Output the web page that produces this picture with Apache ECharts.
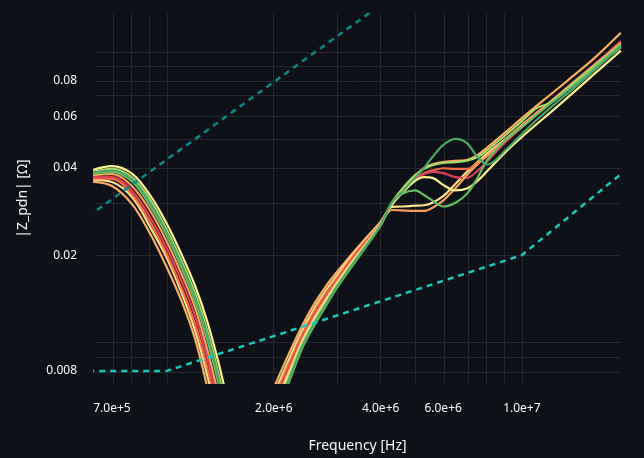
<!DOCTYPE html>
<html>
<head>
<meta charset="utf-8">
<script src="https://cdn.jsdelivr.net/npm/echarts@6/dist/echarts.min.js"></script>
<style>
  html, body { margin: 0; padding: 0; background: #0e1117; }
  #chart { width: 644px; height: 458px; }
</style>
</head>
<body>
<div id="chart"></div>
<script>
// frequency grid shared by all PDN curves (null entry = gap below the plot)
const freqs = [
  6.0e5, 7.0e5, 8.0e5, 9.0e5, 1.0e6, 1.1e6, 1.2e6, 1.3e6, 1.4e6, 1.5e6,
  1.7e6,
  2.0e6, 2.2e6, 2.4e6, 2.6e6, 2.8e6, 3.0e6, 3.3e6, 3.6e6, 4.0e6,
  4.3e6, 4.6e6, 5.0e6, 5.3e6, 5.6e6, 6.0e6, 6.5e6, 7.0e6, 7.5e6, 8.0e6,
  9.0e6, 1.0e7, 1.1e7, 1.2e7, 1.4e7, 1.6e7, 1.9e7
];

// |Z_pdn| in ohm, one array per case
const zOrange = [
  0.0359, 0.0346, 0.0298, 0.0235, 0.0181, 0.0139, 0.0103, 0.00699, 0.00463, 0.00290,
  null,
  0.00700, 0.00910, 0.0114, 0.0136, 0.0156, 0.0174, 0.0200, 0.0226, 0.0261,
  0.0298, 0.0335, 0.0374, 0.0399, 0.0411, 0.0418, 0.0422, 0.0425, 0.0442, 0.0470,
  0.0530, 0.0592, 0.0652, 0.0711, 0.0830, 0.0952, 0.1164
];
const zYellow = [
  0.0364, 0.0357, 0.0315, 0.0248, 0.0195, 0.0148, 0.0110, 0.00769, 0.00514, 0.00334,
  null,
  0.00665, 0.00868, 0.01095, 0.0131, 0.0151, 0.0169, 0.0197, 0.0223, 0.0259,
  0.0293, 0.0294, 0.0296, 0.0297, 0.0303, 0.0319, 0.0352, 0.0387, 0.0418, 0.0449,
  0.0502, 0.0560, 0.0617, 0.0668, 0.0775, 0.0880, 0.1038
];
const zOrangeRed = [
  0.0367, 0.0366, 0.0322, 0.0258, 0.0201, 0.0154, 0.0116, 0.00819, 0.00552, 0.00357,
  null,
  0.00640, 0.00838, 0.0106, 0.01276, 0.01472, 0.0165, 0.0194, 0.0221, 0.0258,
  0.0300, 0.0330, 0.0366, 0.0383, 0.0391, 0.0398, 0.0396, 0.0396, 0.0415, 0.0438,
  0.0498, 0.0556, 0.0617, 0.0672, 0.0787, 0.0905, 0.1080
];
const zRed = [
  0.0371, 0.0371, 0.0332, 0.0268, 0.0211, 0.0163, 0.0124, 0.00880, 0.00602, 0.00396,
  null,
  0.00618, 0.00810, 0.01034, 0.01244, 0.01434, 0.01622, 0.0191, 0.02182, 0.0257,
  0.0300, 0.0327, 0.0363, 0.0380, 0.0387, 0.0383, 0.0371, 0.0369, 0.0390, 0.0422,
  0.0490, 0.0551, 0.0612, 0.0669, 0.0784, 0.0901, 0.1089
];
const zPeach = [
  0.0376, 0.0380, 0.0344, 0.0282, 0.0222, 0.0172, 0.0132, 0.00944, 0.00651, 0.00435,
  null,
  0.00603, 0.00792, 0.01016, 0.01222, 0.01412, 0.01602, 0.0189, 0.02160, 0.02562,
  0.0286, 0.0285, 0.0284, 0.0284, 0.0291, 0.0308, 0.0340, 0.0377, 0.0411, 0.0442,
  0.0498, 0.0556, 0.0614, 0.0672, 0.0787, 0.0901, 0.1072
];
const zPale = [
  0.0388, 0.0405, 0.0380, 0.0319, 0.0256, 0.0201, 0.0157, 0.0118, 0.00846, 0.00588,
  null,
  0.00589, 0.00774, 0.01000, 0.01202, 0.01390, 0.01587, 0.01868, 0.02143, 0.02554,
  0.0298, 0.0327, 0.0360, 0.0371, 0.0369, 0.0349, 0.0334, 0.0339, 0.0360, 0.0390,
  0.0453, 0.0510, 0.0564, 0.0617, 0.0727, 0.0840, 0.1010
];
const zLightGreen = [
  0.0383, 0.0396, 0.0369, 0.0308, 0.0244, 0.0191, 0.0148, 0.0110, 0.00775, 0.00530,
  null,
  0.00575, 0.00757, 0.00984, 0.01182, 0.01369, 0.01566, 0.01845, 0.02129, 0.02542,
  0.0303, 0.0338, 0.0377, 0.0396, 0.0408, 0.0415, 0.0418, 0.0423, 0.0435, 0.0460,
  0.0518, 0.0578, 0.0641, 0.0668, 0.0781, 0.0894, 0.1063
];
const zGreen = [
  0.0380, 0.0387, 0.0357, 0.0293, 0.0233, 0.0181, 0.0139, 0.0102, 0.00716, 0.00482,
  null,
  0.00550, 0.00725, 0.00952, 0.01145, 0.01334, 0.0153, 0.01808, 0.02100, 0.0253,
  0.0303, 0.0325, 0.0334, 0.0322, 0.0308, 0.0294, 0.0303, 0.0325, 0.0369, 0.0425,
  0.0498, 0.0551, 0.0607, 0.0662, 0.0769, 0.0880, 0.1055
];
const zDarkGreen = [
  0.0382, 0.0391, 0.0363, 0.0300, 0.0238, 0.0186, 0.0143, 0.01063, 0.00745, 0.00506,
  null,
  0.00562, 0.00740, 0.00968, 0.01162, 0.01352, 0.01546, 0.01826, 0.02114, 0.02536,
  0.0303, 0.0330, 0.0369, 0.0399, 0.0435, 0.0478, 0.0502, 0.0486, 0.0435, 0.0410,
  0.0460, 0.0522, 0.0583, 0.0641, 0.0751, 0.0866, 0.1047
];

// dashed reference lines
const upperFreqs = [6.0e5, 1.0e6, 2.0e6, 3.0e6, 4.0e6];
const upperZ = [0.0272, 0.0427, 0.0788, 0.1127, 0.145];
const targetFreqs = [6.0e5, 1.0e6, 1.0e7, 2.0e7];
const targetZ = [0.008, 0.008, 0.020, 0.040];

// axis ticks / grid
const xRange = [6.27e5, 1.89e7];
const yRange = [0.00727, 0.135];
const xTickLabels = [7e5, 2e6, 4e6, 6e6, 1e7];
const yTickLabels = [0.008, 0.02, 0.04, 0.06, 0.08];
const xGridValues = [7e5, 8e5, 9e5, 1e6, 2e6, 3e6, 4e6, 5e6, 6e6, 7e6, 8e6, 9e6, 1e7];
const yGridValues = [0.008, 0.009, 0.01, 0.02, 0.03, 0.04, 0.05, 0.06, 0.07, 0.08, 0.09, 0.1];

const curves = [
  { z: zOrange, color: '#fdae61' },
  { z: zYellow, color: '#fee08b' },
  { z: zOrangeRed, color: '#f46d43' },
  { z: zRed, color: '#dd4157' },
  { z: zPeach, color: '#f6a05c' },
  { z: zPale, color: '#fbf28f' },
  { z: zLightGreen, color: '#a6d96a' },
  { z: zGreen, color: '#66bd63' },
  { z: zDarkGreen, color: '#4fa565' },
];

const lg = Math.log10;
const FONT = '"Source Sans Pro", "Noto Sans", sans-serif';
const toXY = (fs, zs) => fs.map((f, i) => zs[i] == null ? [lg(f), '-'] : [lg(f), lg(zs[i])]);

const chart = echarts.init(document.getElementById('chart'));

const series = [];
// grid lines as mark lines on an empty helper series, kept under the curves
series.push({
  type: 'line',
  data: [],
  silent: true,
  z: 0,
  markLine: {
    z: 0,
    silent: true,
    symbol: 'none',
    animation: false,
    label: { show: false },
    lineStyle: { color: '#25282f', width: 1, type: 'solid' },
    data: xGridValues.map(v => ({ xAxis: lg(v) }))
      .concat(yGridValues.map(v => ({ yAxis: lg(v) }))),
  },
});
curves.forEach((c) => {
  series.push({
    type: 'line',
    data: toXY(freqs, c.z),
    showSymbol: false,
    smooth: 0.35,
    z: 10,
    lineStyle: { color: c.color, width: 2.2 },
  });
});
series.push({
  type: 'line',
  data: toXY(upperFreqs, upperZ),
  showSymbol: false,
  z: 12,
  lineStyle: { color: '#0b8a88', width: 2.5, type: [6, 5] },
});
series.push({
  type: 'line',
  data: toXY(targetFreqs, targetZ),
  showSymbol: false,
  z: 12,
  lineStyle: { color: '#17c9b9', width: 2.5, type: [6, 5] },
});

chart.setOption({
  backgroundColor: '#0e1117',
  animation: false,
  textStyle: { fontFamily: FONT },
  grid: { left: 95, right: 24, top: 14, bottom: 75 },
  xAxis: {
    type: 'value',
    min: lg(xRange[0]),
    max: lg(xRange[1]),
    name: 'Frequency [Hz]',
    nameLocation: 'middle',
    nameGap: 56,
    nameTextStyle: { color: '#fafafa', fontSize: 14, fontFamily: FONT },
    axisLine: { show: false },
    axisTick: { show: false },
    splitLine: { show: false },
    axisLabel: {
      customValues: xTickLabels.map(lg),
      color: '#fafafa',
      fontSize: 12,
      margin: 20,
      fontFamily: FONT,
      formatter: v => Math.pow(10, v).toExponential(1),
    },
  },
  yAxis: {
    type: 'value',
    min: lg(yRange[0]),
    max: lg(yRange[1]),
    name: '|Z_pdn| [Ω]',
    nameLocation: 'middle',
    nameGap: 65,
    nameRotate: 90,
    nameTextStyle: { color: '#fafafa', fontSize: 14, fontFamily: FONT },
    axisLine: { show: false },
    axisTick: { show: false },
    splitLine: { show: false },
    axisLabel: {
      customValues: yTickLabels.map(lg),
      color: '#fafafa',
      fontSize: 12,
      margin: 18,
      fontFamily: FONT,
      formatter: v => String(Number(Math.pow(10, v).toPrecision(1))),
    },
  },
  series: series,
});
</script>
</body>
</html>
